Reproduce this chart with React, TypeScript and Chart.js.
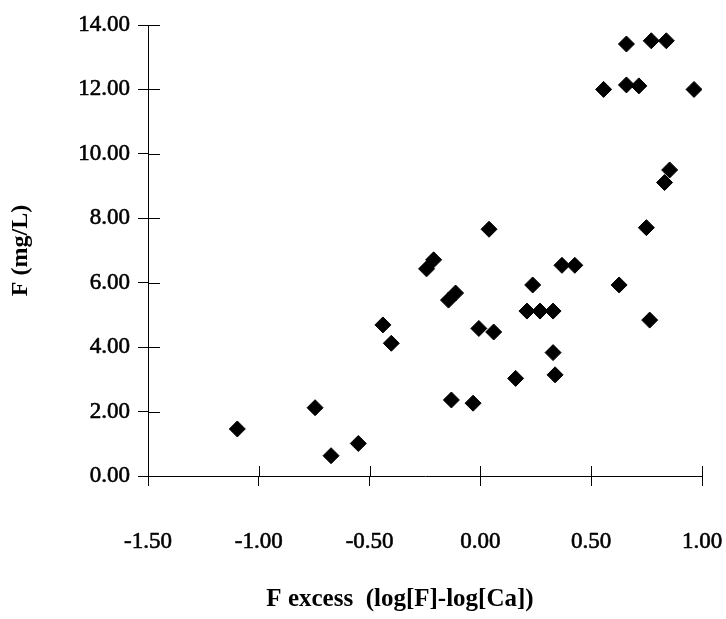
import React, { useEffect, useRef } from "react";
import { Chart, registerables } from "chart.js";

Chart.register(...registerables);

// F excess (log[F]-log[Ca])
const fExcess = [
  -1.097, -0.746, -0.674, -0.551, -0.440, -0.402,
  -0.243, -0.211, -0.144, -0.112, -0.131, -0.033,
  -0.007, 0.060, 0.039, 0.159, 0.236, 0.210, 0.269, 0.328,
  0.368, 0.426, 0.328, 0.337, 0.626, 0.749, 0.764,
  0.831, 0.854, 0.556, 0.659, 0.715, 0.964,
  0.659, 0.771, 0.839,
];
// F (mg/L)
const fMgL = [
  1.46, 2.12, 0.63, 1.01, 4.69, 4.12,
  6.43, 6.71, 5.46, 5.68, 2.36, 2.26,
  4.58, 4.47, 7.66, 3.03, 5.93, 5.12, 5.12, 5.12,
  6.54, 6.54, 3.83, 3.14, 5.93, 7.71, 4.84,
  9.11, 9.50, 12.0, 12.14, 12.11, 12.0,
  13.41, 13.51, 13.51,
];
const xTickValues = [-1.5, -1.0, -0.5, 0.0, 0.5, 1.0];
const yTickValues = [0, 2, 4, 6, 8, 10, 12, 14];

const xTitle = "F excess  (log[F]-log[Ca])";
const yTitle = "F (mg/L)";

const crossTicks = {
  id: "crossTicks",
  afterDraw(chart: any) {
    const { ctx, chartArea, scales } = chart;
    ctx.save();
    ctx.strokeStyle = "#000";
    ctx.lineWidth = 1;
    ctx.beginPath();
    for (const t of scales.x.ticks) {
      const px = Math.round(scales.x.getPixelForValue(t.value)) + 0.5;
      ctx.moveTo(px, chartArea.bottom);
      ctx.lineTo(px, chartArea.bottom - 10);
    }
    for (const t of scales.y.ticks) {
      const py = Math.round(scales.y.getPixelForValue(t.value)) + 0.5;
      ctx.moveTo(chartArea.left, py);
      ctx.lineTo(chartArea.left + 12, py);
    }
    ctx.stroke();
    ctx.restore();
  },
};

export default function App() {
  const ref = useRef<HTMLCanvasElement | null>(null);

  useEffect(() => {
    if (!ref.current) return;
    const chart = new Chart(ref.current, {
      type: "scatter",
      data: {
        datasets: [
          {
            data: fExcess.map((x, i) => ({ x, y: fMgL[i] })),
            pointStyle: "rectRot",
            pointRadius: 8,
            pointBackgroundColor: "#000",
            pointBorderColor: "#000",
            pointBorderWidth: 1,
            showLine: false,
          },
        ],
      },
      options: {
        responsive: false,
        animation: false,
        layout: { padding: { left: 0, top: 25, right: 24, bottom: 0 } },
        plugins: { legend: { display: false }, tooltip: { enabled: false } },
        scales: {
          x: {
            type: "linear",
            min: -1.5,
            max: 1.0,
            afterBuildTicks: (s: any) => {
              s.ticks = xTickValues.map((v) => ({ value: v }));
            },
            afterFit: (s: any) => {
              s.height = 143;
              s.paddingLeft = 0;
              s.paddingRight = 0;
            },
            grid: {
              drawOnChartArea: false,
              drawTicks: true,
              tickLength: 10,
              color: "#000",
            },
            border: { display: true, color: "#000", width: 1 },
            ticks: {
              padding: 42,
              color: "#000",
              textStrokeColor: "#000",
              textStrokeWidth: 0.6,
              font: { family: "'Liberation Serif', serif", size: 23 },
              callback: (v: any) => Number(v).toFixed(2),
            },
            title: {
              display: true,
              text: xTitle + "        ",
              color: "#000",
              font: { family: "'Liberation Serif', serif", size: 25, weight: "bold" },
              padding: { top: 0, bottom: 4 },
            },
          },
          y: {
            type: "linear",
            min: 0,
            max: 14,
            afterBuildTicks: (s: any) => {
              s.ticks = yTickValues.map((v) => ({ value: v }));
            },
            afterFit: (s: any) => {
              s.width = 148;
              s.paddingTop = 0;
              s.paddingBottom = 0;
            },
            grid: {
              drawOnChartArea: false,
              drawTicks: true,
              tickLength: 10,
              color: "#000",
            },
            border: { display: true, color: "#000", width: 1 },
            ticks: {
              padding: 8,
              color: "#000",
              textStrokeColor: "#000",
              textStrokeWidth: 0.6,
              font: { family: "'Liberation Serif', serif", size: 23 },
              callback: (v: any) => Number(v).toFixed(2),
            },
            title: {
              display: true,
              text: yTitle,
              color: "#000",
              font: { family: "'Liberation Serif', serif", size: 24, weight: "bold" },
              padding: { top: 6, bottom: 0 },
            },
          },
        },
      },
      plugins: [crossTicks],
    });
    return () => chart.destroy();
  }, []);

  return (
    <div style={{ position: "absolute", left: 0, top: 0, width: 726, height: 619, background: "#fff" }}>
      <canvas ref={ref} width={726} height={619} />
    </div>
  );
}
